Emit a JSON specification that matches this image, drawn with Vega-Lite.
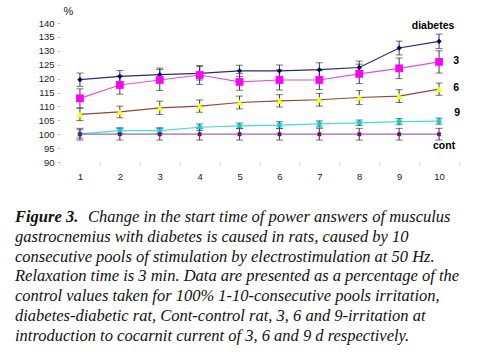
{
  "$schema": "https://vega.github.io/schema/vega-lite/v6.json",
  "background": "white",
  "padding": {"left": 15, "top": 5, "right": 5, "bottom": 0},
  "spacing": 26,
  "config": {"view": {"stroke": null}, "font": "Liberation Sans"},
  "datasets": {
    "series": [
      {"pool": 1, "series": "diabetes", "value": 119.6, "err": 2.4},
      {"pool": 2, "series": "diabetes", "value": 120.8, "err": 2.1},
      {"pool": 3, "series": "diabetes", "value": 121.4, "err": 2.4},
      {"pool": 4, "series": "diabetes", "value": 121.9, "err": 2.4},
      {"pool": 5, "series": "diabetes", "value": 122.8, "err": 2.0},
      {"pool": 6, "series": "diabetes", "value": 122.8, "err": 2.1},
      {"pool": 7, "series": "diabetes", "value": 123.2, "err": 2.5},
      {"pool": 8, "series": "diabetes", "value": 124.0, "err": 2.3},
      {"pool": 9, "series": "diabetes", "value": 131.0, "err": 2.5},
      {"pool": 10, "series": "diabetes", "value": 133.4, "err": 2.6},
      {"pool": 1, "series": "3", "value": 112.9, "err": 3.4},
      {"pool": 2, "series": "3", "value": 117.7, "err": 3.3},
      {"pool": 3, "series": "3", "value": 119.5, "err": 3.8},
      {"pool": 4, "series": "3", "value": 121.3, "err": 3.4},
      {"pool": 5, "series": "3", "value": 118.8, "err": 3.0},
      {"pool": 6, "series": "3", "value": 119.5, "err": 3.6},
      {"pool": 7, "series": "3", "value": 119.5, "err": 3.4},
      {"pool": 8, "series": "3", "value": 121.7, "err": 3.5},
      {"pool": 9, "series": "3", "value": 123.7, "err": 3.7},
      {"pool": 10, "series": "3", "value": 126.0, "err": 4.0},
      {"pool": 1, "series": "6", "value": 107.1, "err": 2.2},
      {"pool": 2, "series": "6", "value": 108.0, "err": 2.1},
      {"pool": 3, "series": "6", "value": 109.5, "err": 2.4},
      {"pool": 4, "series": "6", "value": 110.1, "err": 2.2},
      {"pool": 5, "series": "6", "value": 111.4, "err": 2.3},
      {"pool": 6, "series": "6", "value": 112.0, "err": 2.2},
      {"pool": 7, "series": "6", "value": 112.4, "err": 2.3},
      {"pool": 8, "series": "6", "value": 113.2, "err": 2.5},
      {"pool": 9, "series": "6", "value": 113.7, "err": 2.3},
      {"pool": 10, "series": "6", "value": 116.2, "err": 2.2},
      {"pool": 1, "series": "9", "value": 100.1, "err": 1.5},
      {"pool": 2, "series": "9", "value": 101.3, "err": 1.0},
      {"pool": 3, "series": "9", "value": 101.3, "err": 1.0},
      {"pool": 4, "series": "9", "value": 102.5, "err": 1.2},
      {"pool": 5, "series": "9", "value": 103.0, "err": 1.0},
      {"pool": 6, "series": "9", "value": 103.3, "err": 1.2},
      {"pool": 7, "series": "9", "value": 103.7, "err": 1.1},
      {"pool": 8, "series": "9", "value": 104.1, "err": 1.0},
      {"pool": 9, "series": "9", "value": 104.5, "err": 1.1},
      {"pool": 10, "series": "9", "value": 104.7, "err": 1.1},
      {"pool": 1, "series": "cont", "value": 100, "err": 2.1},
      {"pool": 2, "series": "cont", "value": 100, "err": 2.1},
      {"pool": 3, "series": "cont", "value": 100, "err": 2.1},
      {"pool": 4, "series": "cont", "value": 100, "err": 2.1},
      {"pool": 5, "series": "cont", "value": 100, "err": 2.1},
      {"pool": 6, "series": "cont", "value": 100, "err": 2.1},
      {"pool": 7, "series": "cont", "value": 100, "err": 2.1},
      {"pool": 8, "series": "cont", "value": 100, "err": 2.1},
      {"pool": 9, "series": "cont", "value": 100, "err": 2.1},
      {"pool": 10, "series": "cont", "value": 100, "err": 2.1}
    ],
    "caption": [
      {"line": 2, "text": "gastrocnemius with diabetes is caused in rats, caused by 10"},
      {"line": 3, "text": "consecutive pools of stimulation by electrostimulation at 50 Hz."},
      {"line": 4, "text": "Relaxation time is 3 min. Data are presented as a percentage of the"},
      {"line": 5, "text": "control values taken for 100% 1-10-consecutive pools irritation,"},
      {"line": 6, "text": "diabetes-diabetic rat, Cont-control rat, 3, 6 and 9-irritation at"},
      {"line": 7, "text": "introduction to cocarnit current of 3, 6 and 9 d respectively."}
    ]
  },
  "vconcat": [
    {
      "width": 399,
      "height": 139,
      "data": {"name": "series"},
      "encoding": {
        "x": {
          "field": "pool", "type": "ordinal",
          "scale": {"type": "band", "paddingInner": 0, "paddingOuter": 0},
          "axis": {"title": null, "domain": false, "labelAngle": 0, "tickBand": "extent",
                   "tickColor": "#d0d0d0", "tickSize": 3, "labelPadding": 6,
                   "labelFont": "Liberation Sans", "labelFontSize": 9.5, "labelColor": "#222"}
        },
        "y": {"field": "value", "type": "quantitative",
              "scale": {"domain": [90, 140], "nice": false, "zero": false},
              "axis": {"title": "%", "titleAngle": 0, "titleX": 8, "titleY": -7, "titleAlign": "center",
                       "titleFont": "Liberation Sans", "titleFontSize": 11, "titleFontWeight": "normal", "titleColor": "#222",
                       "values": [90, 95, 100, 105, 110, 115, 120, 125, 130, 135, 140],
                       "domain": false, "grid": false, "tickColor": "#c8c8c8", "tickSize": 3, "labelPadding": 3,
                       "labelFont": "Liberation Sans", "labelFontSize": 9.5, "labelColor": "#222"}}
      },
      "layer": [
        {
          "mark": {"type": "line", "strokeWidth": 1.2},
          "encoding": {
            "color": {"field": "series", "type": "nominal",
                      "scale": {"domain": ["diabetes", "3", "6", "9", "cont"],
                                "range": ["#2a2a7a", "#e050e0", "#8b4a3a", "#40dede", "#9a6ab0"]},
                      "legend": null}
          }
        },
        {
          "mark": {"type": "errorbar", "color": "#3a3a3a", "thickness": 1, "ticks": {"size": 7, "color": "#3a3a3a"}},
          "encoding": {
            "yError": {"field": "err"},
            "detail": {"field": "series"}
          }
        },
        {
          "transform": [{"filter": "datum.series === 'diabetes'"}],
          "mark": {"type": "point", "shape": "diamond", "filled": true, "size": 28, "color": "#000070", "opacity": 1},
          "encoding": {}
        },
        {
          "transform": [{"filter": "datum.series === '3'"}],
          "mark": {"type": "point", "shape": "square", "filled": true, "size": 60, "color": "#ff00ff", "opacity": 1},
          "encoding": {}
        },
        {
          "transform": [{"filter": "datum.series === '6'"}],
          "mark": {"type": "point", "shape": "triangle-up", "filled": true, "size": 50, "color": "#ffff00", "opacity": 1},
          "encoding": {}
        },
        {
          "transform": [{"filter": "datum.series === '9'"}],
          "mark": {"type": "point", "shape": "cross", "angle": 45, "filled": true, "size": 30, "color": "#00d8d8", "opacity": 1},
          "encoding": {}
        },
        {
          "transform": [{"filter": "datum.series === 'cont'"}],
          "mark": {"type": "point", "shape": "cross", "angle": 45, "filled": true, "size": 22, "color": "#800080", "opacity": 1},
          "encoding": {}
        },
        {
          "transform": [{"filter": "datum.series === 'diabetes' && datum.pool === 10"}],
          "mark": {"type": "text", "font": "Liberation Sans", "fontSize": 10.5, "fontWeight": "bold", "color": "#000", "dx": -6, "dy": -15},
          "encoding": {"text": {"field": "series"}}
        },
        {
          "transform": [{"filter": "datum.series === '3' && datum.pool === 10"}],
          "mark": {"type": "text", "font": "Liberation Sans", "fontSize": 10.5, "fontWeight": "bold", "color": "#000", "dx": 17, "dy": -1},
          "encoding": {"text": {"field": "series"}}
        },
        {
          "transform": [{"filter": "datum.series === '6' && datum.pool === 10"}],
          "mark": {"type": "text", "font": "Liberation Sans", "fontSize": 10.5, "fontWeight": "bold", "color": "#000", "dx": 17, "dy": -1},
          "encoding": {"text": {"field": "series"}}
        },
        {
          "transform": [{"filter": "datum.series === '9' && datum.pool === 10"}],
          "mark": {"type": "text", "font": "Liberation Sans", "fontSize": 10.5, "fontWeight": "bold", "color": "#000", "dx": 18, "dy": -8},
          "encoding": {"text": {"field": "series"}}
        },
        {
          "transform": [{"filter": "datum.series === 'cont' && datum.pool === 10"}],
          "mark": {"type": "text", "font": "Liberation Sans", "fontSize": 10.5, "fontWeight": "bold", "color": "#000", "dx": 5, "dy": 12},
          "encoding": {"text": {"field": "series"}}
        }
      ]
    },
    {
      "width": 399,
      "height": {"step": 19.8},
      "encoding": {
        "y": {"field": "line", "type": "ordinal", "axis": null,
              "scale": {"type": "band", "domain": [1, 2, 3, 4, 5, 6, 7], "paddingInner": 0, "paddingOuter": 0}}
      },
      "layer": [
        {
          "data": {"name": "caption"},
          "mark": {"type": "text", "font": "Liberation Serif", "fontStyle": "italic", "fontSize": 16.5, "align": "left", "baseline": "middle", "color": "#111", "x": -45},
          "encoding": {"text": {"field": "text"}}
        },
        {
          "data": {"values": [{"line": 1, "text": "Figure 3."}]},
          "mark": {"type": "text", "font": "Liberation Serif", "fontStyle": "italic", "fontWeight": "bold", "fontSize": 16.5, "align": "left", "baseline": "middle", "color": "#111", "x": -45},
          "encoding": {"text": {"field": "text"}}
        },
        {
          "data": {"values": [{"line": 1, "text": "Change in the start time of power answers of musculus"}]},
          "mark": {"type": "text", "font": "Liberation Serif", "fontStyle": "italic", "fontSize": 16.5, "align": "left", "baseline": "middle", "color": "#111", "x": 28},
          "encoding": {"text": {"field": "text"}}
        }
      ]
    }
  ]
}
